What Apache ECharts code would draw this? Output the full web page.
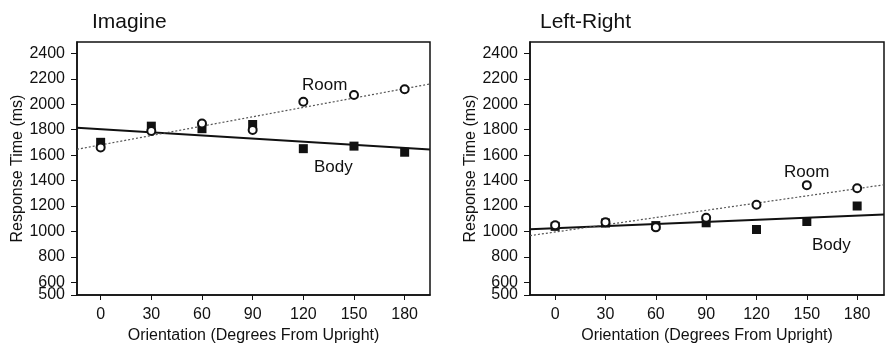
<!DOCTYPE html>
<html>
<head>
<meta charset="utf-8">
<script src="https://cdn.jsdelivr.net/npm/echarts@6/dist/echarts.min.js"></script>
<style>
  html, body { margin: 0; padding: 0; background: #fff; }
  #chart { width: 886px; height: 349px; }
</style>
</head>
<body>
<div id="chart"></div>
<script>
// orientations (degrees from upright)
const orientations = [0, 30, 60, 90, 120, 150, 180];
const xTicks = [0, 30, 60, 90, 120, 150, 180];
const yTicks = [600, 800, 1000, 1200, 1400, 1600, 1800, 2000, 2200, 2400];
const yBaseTick = [500];

// Imagine panel (ms)
const imagineRoom = [1661, 1790, 1848, 1798, 2020, 2073, 2119];
const imagineBody = [1701, 1828, 1808, 1841, 1651, 1671, 1623];
// Left-Right panel (ms)
const leftRightRoom = [1048, 1073, 1032, 1108, 1210, 1364, 1339];
const leftRightBody = [1040, 1066, 1046, 1068, 1015, 1078, 1200];

// fitted lines, read at the left and right edges of each panel
const imagineFitX = [-14, 195];
const imagineRoomFit = [1646, 2160];
const imagineBodyFit = [1816, 1645];
const leftRightFitX = [-15, 196];
const leftRightRoomFit = [967, 1367];
const leftRightBodyFit = [1017, 1134];

const FONT = 'Liberation Sans, Arial, Helvetica, sans-serif';
const INK = '#111';

const zip = (xs, ys) => xs.map((x, i) => [x, ys[i]]);

function xAxisFor(gridIndex, min, max) {
  return {
    type: 'value', gridIndex, min, max,
    name: 'Orientation (Degrees From Upright)',
    nameLocation: 'middle', nameGap: 33,
    nameTextStyle: { fontFamily: FONT, fontSize: 16, color: INK },
    splitLine: { show: false },
    axisLine: { show: true, onZero: false, lineStyle: { color: INK, width: 1.5 } },
    axisTick: { show: true, length: 5, customValues: xTicks, lineStyle: { color: INK } },
    axisLabel: {
      customValues: xTicks, margin: 12, fontFamily: FONT, fontSize: 16, color: INK,
      formatter: v => String(v)
    }
  };
}

// main y axis: 600..2400
function yAxisFor(gridIndex) {
  return {
    type: 'value', gridIndex, min: 500, max: 2490,
    name: 'Response Time (ms)',
    nameLocation: 'middle', nameGap: 48,
    nameTextStyle: { fontFamily: FONT, fontSize: 16, color: INK },
    splitLine: { show: false },
    axisLine: { show: true, onZero: false, lineStyle: { color: INK, width: 1.5 } },
    axisTick: { show: true, length: 6, customValues: yTicks, lineStyle: { color: INK } },
    axisLabel: {
      customValues: yTicks, margin: 12, fontFamily: FONT, fontSize: 16, color: INK,
      hideOverlap: false, formatter: v => String(v)
    }
  };
}

// extra y axis carrying only the 500 label (it overlaps 600 in the original)
function yBaseAxisFor(gridIndex) {
  return {
    type: 'value', gridIndex, min: 500, max: 2490, position: 'left',
    splitLine: { show: false },
    axisLine: { show: false, onZero: false },
    axisTick: { show: true, length: 6, customValues: yBaseTick, lineStyle: { color: INK } },
    axisLabel: {
      customValues: yBaseTick, margin: 12, fontFamily: FONT, fontSize: 16, color: INK,
      showMinLabel: true, formatter: v => String(v)
    }
  };
}

function panelSeries(idx, room, body, fitX, roomFit, bodyFit) {
  return [
    {
      type: 'line', xAxisIndex: idx, yAxisIndex: idx, data: zip(fitX, bodyFit),
      symbol: 'none', lineStyle: { color: INK, width: 2 }, z: 2, silent: true
    },
    {
      type: 'line', xAxisIndex: idx, yAxisIndex: idx, data: zip(fitX, roomFit),
      symbol: 'none', lineStyle: { color: '#555', width: 1.2, type: [2, 2] }, z: 2, silent: true
    },
    {
      type: 'scatter', xAxisIndex: idx, yAxisIndex: idx, data: zip(orientations, body),
      symbol: 'rect', symbolSize: 9, itemStyle: { color: INK, opacity: 1 }, z: 3
    },
    {
      type: 'scatter', xAxisIndex: idx, yAxisIndex: idx, data: zip(orientations, room),
      symbol: 'circle', symbolSize: 8,
      itemStyle: { color: '#fff', borderColor: INK, borderWidth: 2, opacity: 1 }, z: 4
    }
  ];
}

const chart = echarts.init(document.getElementById('chart'));
chart.setOption({
  animation: false,
  backgroundColor: '#fff',
  title: [
    { text: 'Imagine', left: 87, top: 7, textStyle: { fontFamily: FONT, fontSize: 21, fontWeight: 'normal', color: INK } },
    { text: 'Left-Right', left: 535, top: 7, textStyle: { fontFamily: FONT, fontSize: 21, fontWeight: 'normal', color: INK } }
  ],
  grid: [
    { left: 77, top: 42, width: 353, height: 262, show: true, borderColor: INK, borderWidth: 1.5, backgroundColor: 'transparent' },
    { left: 530, top: 42, width: 354, height: 262, show: true, borderColor: INK, borderWidth: 1.5, backgroundColor: 'transparent' }
  ],
  xAxis: [xAxisFor(0, imagineFitX[0], imagineFitX[1]), xAxisFor(1, leftRightFitX[0], leftRightFitX[1])],
  yAxis: [yAxisFor(0), yAxisFor(1), yBaseAxisFor(0), yBaseAxisFor(1)],
  graphic: [
    { type: 'text', left: 302, top: 77, style: { text: 'Room', font: '17px ' + FONT, fill: INK } },
    { type: 'text', left: 314, top: 159, style: { text: 'Body', font: '17px ' + FONT, fill: INK } },
    { type: 'text', left: 784, top: 164, style: { text: 'Room', font: '17px ' + FONT, fill: INK } },
    { type: 'text', left: 812, top: 237, style: { text: 'Body', font: '17px ' + FONT, fill: INK } }
  ],
  series: [
    ...panelSeries(0, imagineRoom, imagineBody, imagineFitX, imagineRoomFit, imagineBodyFit),
    ...panelSeries(1, leftRightRoom, leftRightBody, leftRightFitX, leftRightRoomFit, leftRightBodyFit)
  ]
});
</script>
</body>
</html>
